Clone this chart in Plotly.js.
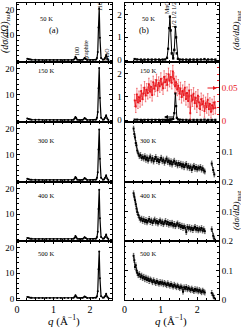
<!DOCTYPE html>
<html><head><meta charset="utf-8">
<script src="https://cdn.plot.ly/plotly-3.0.1.min.js"></script>
<style>html,body{margin:0;padding:0;background:#fff}#chart{width:241px;height:330px}</style>
</head><body><div id="chart"></div>
<script>
// ---------- DATA ----------
const tempLabels = ['50 K','150 K','300 K','400 K','500 K'];

// nuclear scattering (left column)
const qNuc = [0.28,0.32,0.36,0.40,0.50,0.60,0.70,0.80,0.90,1.00,
  1.10,1.20,1.30,1.40,1.50,1.55,1.58,1.60,1.62,1.65,
  1.70,1.78,1.82,1.85,1.88,1.92,2.00,2.08,2.14,2.17,
  2.19,2.21,2.23,2.25,2.27,2.30,2.35,2.38,2.41,2.44,
  2.47,2.50];
const nuc50 = [0.9,0.7,0.55,0.5,0.45,0.42,0.4,0.4,0.38,0.38,
  0.37,0.37,0.38,0.38,0.4,0.5,0.9,1.6,1.2,0.5,
  0.4,0.4,0.6,1.2,0.8,0.4,0.4,0.4,0.45,0.6,
  1.2,3.5,13,20.5,9,1.2,0.5,0.6,1.2,2.3,
  0.9,0.4];
const nuc150 = [0.9,0.7,0.55,0.5,0.45,0.42,0.4,0.4,0.38,0.38,
  0.37,0.37,0.38,0.38,0.4,0.5,0.9,1.5,1.1,0.5,
  0.4,0.4,0.6,1.1,0.8,0.4,0.4,0.4,0.45,0.6,
  1.2,3.4,12.5,20.2,8.8,1.2,0.5,0.6,1.2,2.2,
  0.9,0.4];
const nuc300 = [0.8,0.65,0.5,0.45,0.42,0.4,0.38,0.38,0.37,0.37,
  0.36,0.36,0.37,0.37,0.4,0.5,0.9,1.5,1.1,0.5,
  0.4,0.4,0.6,1.1,0.8,0.4,0.4,0.4,0.45,0.6,
  1.2,3.3,12,19.6,8.5,1.2,0.5,0.6,1.2,2.2,
  0.9,0.4];
const nuc400 = [0.8,0.65,0.5,0.45,0.42,0.4,0.38,0.38,0.37,0.37,
  0.36,0.36,0.37,0.37,0.4,0.5,0.9,1.5,1.1,0.5,
  0.4,0.4,0.6,1.1,0.8,0.4,0.4,0.4,0.45,0.6,
  1.2,3.2,12,19.5,8.4,1.2,0.5,0.6,1.2,2.1,
  0.9,0.4];
const nuc500 = [0.8,0.65,0.5,0.45,0.42,0.4,0.38,0.38,0.37,0.37,
  0.36,0.36,0.37,0.37,0.4,0.5,0.9,1.4,1.0,0.5,
  0.4,0.4,0.6,1.0,0.8,0.4,0.4,0.4,0.45,0.6,
  1.1,3.0,11.5,18.4,8.0,1.1,0.5,0.6,1.1,2.0,
  0.9,0.4];

// magnetic scattering, low T (right column, black, left axis)
const qMag = [0.28,0.35,0.45,0.55,0.65,0.75,0.85,0.95,1.05,1.12,
  1.17,1.20,1.23,1.25,1.27,1.30,1.34,1.37,1.40,1.42,
  1.44,1.47,1.52,1.60,1.70,1.80,1.90,2.00,2.10,2.20,
  2.30,2.40,2.50];
const mag50 = [0.05,0.03,0.02,0.02,0.02,0.02,0.02,0.02,0.02,0.03,
  0.10,0.50,1.40,1.90,1.30,0.30,0.08,0.45,1.45,1.00,
  0.30,0.06,0.03,0.02,0.02,0.02,0.02,0.02,0.03,0.05,
  0.03,0.03,0.02];
const mag150 = [0.02,0.02,0.01,0.01,0.01,0.01,0.01,0.01,0.01,0.01,
  0.01,0.01,0.01,0.02,0.02,0.03,0.05,0.30,1.15,0.60,
  0.10,0.03,0.02,0.01,0.01,0.01,0.01,0.01,0.01,0.02,
  0.01,0.01,0.01];

// 150 K diffuse magnetic signal (red, right axis)
const qRed = [0.28,0.31,0.34,0.37,0.40,0.43,0.46,0.49,0.52,0.55,
  0.58,0.61,0.64,0.67,0.70,0.73,0.76,0.79,0.82,0.85,
  0.88,0.91,0.94,0.97,1.00,1.03,1.06,1.09,1.12,1.15,
  1.18,1.21,1.24,1.27,1.30,1.33,1.36,1.39,1.42,1.45,
  1.48,1.51,1.54,1.57,1.60,1.63,1.66,1.69,1.72,1.75,
  1.78,1.81,1.84,1.87,1.90,1.93,1.96,1.99,2.02,2.05,
  2.08,2.11,2.14,2.17,2.20,2.23,2.26,2.29,2.32,2.35,
  2.38,2.41,2.44,2.47,2.50];
const red150 = [0.031,0.022,0.040,0.028,0.036,0.030,0.045,0.033,0.041,0.050,
  0.038,0.047,0.042,0.055,0.044,0.051,0.039,0.058,0.048,0.053,
  0.061,0.046,0.057,0.052,0.063,0.055,0.049,0.066,0.058,0.062,
  0.054,0.070,0.060,0.066,0.057,0.074,0.063,0.052,0.058,0.047,
  0.053,0.041,0.049,0.036,0.045,0.039,0.050,0.033,0.042,0.030,
  0.046,0.012,0.038,0.031,0.041,0.027,0.035,0.022,0.038,0.028,
  0.018,0.033,0.025,0.030,0.015,0.027,0.021,0.032,0.018,0.026,
  0.014,0.024,0.019,0.028,0.020];

// paramagnetic scattering, high T (right column, right axis)
const qHi = [0.25,0.27,0.29,0.31,0.33,0.35,0.38,0.41,0.44,0.47,
  0.50,0.53,0.56,0.59,0.62,0.65,0.68,0.71,0.74,0.77,
  0.80,0.83,0.86,0.89,0.92,0.95,0.98,1.01,1.04,1.07,
  1.10,1.13,1.16,1.19,1.22,1.25,1.28,1.31,1.34,1.37,
  1.40,1.43,1.46,1.49,1.52,1.55,1.58,1.61,1.64,1.67,
  1.70,1.73,1.76,1.79,1.82,1.85,1.88,1.91,1.94,1.97,
  2.00,2.03,2.06,2.09,2.12,2.15,2.18,2.21,2.30,2.40,
  2.44,2.47];
const mag300 = [0.178,0.160,0.148,0.130,0.122,0.105,0.095,0.086,0.090,0.080,
  0.084,0.078,0.086,0.074,0.082,0.071,0.079,0.085,0.072,0.080,
  0.068,0.077,0.083,0.070,0.076,0.066,0.074,0.081,0.069,0.075,
  0.064,0.071,0.078,0.066,0.072,0.061,0.069,0.058,0.066,0.071,
  0.060,0.064,0.055,0.063,0.057,0.061,0.052,0.059,0.049,0.056,
  0.060,0.048,0.054,0.046,0.052,0.040,0.049,0.054,0.044,0.050,
  0.042,0.048,0.045,0.050,0.041,0.046,0.038,0.035,null,0.062,
  0.040,0.025];
const mag400 = [0.162,0.150,0.138,0.125,0.110,0.098,0.088,0.079,0.072,0.076,
  0.068,0.074,0.065,0.071,0.063,0.069,0.075,0.064,0.070,0.061,
  0.067,0.073,0.062,0.068,0.059,0.065,0.070,0.060,0.066,0.057,
  0.063,0.068,0.058,0.064,0.055,0.061,0.056,0.062,0.052,0.058,
  0.050,0.056,0.060,0.050,0.055,0.047,0.052,0.044,0.050,0.045,
  0.030,0.048,0.042,0.047,0.039,0.045,0.037,0.043,0.048,0.038,
  0.044,0.036,0.042,0.038,0.044,0.035,0.040,0.033,null,0.040,
  0.018,0.008];
const mag500 = [0.150,0.135,0.112,0.118,0.100,0.092,0.084,0.088,0.078,0.083,
  0.074,0.079,0.070,0.076,0.068,0.073,0.064,0.070,0.066,0.060,
  0.067,0.062,0.057,0.064,0.059,0.055,0.061,0.056,0.060,0.053,
  0.058,0.054,0.050,0.057,0.052,0.048,0.054,0.049,0.045,0.052,
  0.047,0.043,0.049,0.044,0.040,0.046,0.042,0.028,0.043,0.038,
  0.044,0.036,0.041,0.037,0.033,0.039,0.034,0.030,0.037,0.032,
  0.036,0.029,0.034,0.030,0.026,0.032,0.028,0.025,null,0.024,
  0.015,0.007];

// ---------- LAYOUT ----------
const W = 241, H = 330;
const FONT = 'Liberation Serif, Times New Roman, serif';
const rowsPx = [[3,62],[62,122],[122,182],[182,241],[241,300]];
const leftDom = [17/W, 112/W], rightDom = [124.5/W, 219/W];
const px = v => v / W, py = v => 1 - v / H;

const layout = {
  width: W, height: H, margin: {l:0, r:0, t:0, b:0},
  paper_bgcolor: '#fff', plot_bgcolor: 'rgba(0,0,0,0)',
  showlegend: false, font: {family: FONT, size: 9, color: '#000'},
  annotations: []
};

function xAx(dom, showLab) {
  return {domain: dom, range: [0, 2.6], showline: true, mirror: 'ticks', linecolor: '#000', linewidth: 1,
    ticks: 'inside', ticklen: 3, tickcolor: '#000', tickvals: [0,1,2], showticklabels: showLab,
    tickfont: {family: FONT, size: 10}, showgrid: false, zeroline: false,
    minor: {ticks: 'inside', ticklen: 1.8, dtick: 0.25, tick0: 0, tickcolor: '#000', showgrid: false}};
}
function yAx(row, opts) {
  const r = rowsPx[row];
  return Object.assign({domain: [py(r[1]), py(r[0])], showline: true, mirror: 'ticks', linecolor: '#000', linewidth: 1,
    ticks: 'inside', ticklen: 3, tickcolor: '#000', showgrid: false, zeroline: false,
    tickfont: {family: FONT, size: 9}}, opts);
}

const nucSets = [nuc50, nuc150, nuc300, nuc400, nuc500];
const traces = [];

for (let i = 0; i < 5; i++) {
  const nL = 2*i + 1, nR = 2*i + 2;
  const kxL = nL === 1 ? 'xaxis' : 'xaxis' + nL, kyL = nL === 1 ? 'yaxis' : 'yaxis' + nL;
  layout[kxL] = Object.assign(xAx(leftDom, i === 4), {anchor: nL === 1 ? 'y' : 'y' + nL});
  layout['xaxis' + nR] = Object.assign(xAx(rightDom, i === 4), {anchor: 'y' + nR});
  layout[kyL] = yAx(i, {anchor: nL === 1 ? 'x' : 'x' + nL, range: [-0.4, 22.5],
    tickvals: i === 4 ? [0,10,20] : [10,20],
    minor: {ticks: 'inside', ticklen: 1.8, dtick: 2, tick0: 0, tickcolor: '#000', showgrid: false}});
  if (i < 2) {
    layout['yaxis' + nR] = yAx(i, {anchor: 'x' + nR, range: [-0.08, 2.5], tickvals: [0,1,2], side: 'left',
      mirror: i === 0 ? 'ticks' : false,
      minor: {ticks: 'inside', ticklen: 1.8, dtick: 0.2, tick0: 0, tickcolor: '#000', showgrid: false}});
  } else {
    const tv = i === 2 ? [0.1] : (i === 3 ? [0.1, 0.2] : [0, 0.1, 0.2]);
    layout['yaxis' + nR] = yAx(i, {anchor: 'x' + nR, range: [0, 0.2], tickvals: tv,
      ticktext: tv.map(v => v === 0 ? '0' : String(v)), side: 'right',
      minor: {ticks: 'inside', ticklen: 1.8, dtick: 0.02, tick0: 0, tickcolor: '#000', showgrid: false}});
  }
  traces.push({x: qNuc, y: nucSets[i], type: 'scatter', mode: 'lines+markers',
    xaxis: nL === 1 ? 'x' : 'x' + nL, yaxis: nL === 1 ? 'y' : 'y' + nL,
    line: {color: '#000', width: 1.2}, marker: {color: '#000', size: 2}, cliponaxis: true});
}

// red axis on 150 K right panel
layout.yaxis11 = {domain: [py(rowsPx[1][1]), py(rowsPx[1][0])], overlaying: 'y4', anchor: 'x4', side: 'right',
  range: [-0.001, 0.088], tickvals: [0, 0.05], ticktext: ['0','0.05'], showline: true, linecolor: '#000', linewidth: 1,
  ticks: 'inside', ticklen: 3, tickcolor: '#e8141b', tickfont: {family: FONT, size: 9, color: '#e8141b'},
  showgrid: false, zeroline: false,
  minor: {ticks: 'inside', ticklen: 1.8, dtick: 0.01, tick0: 0, tickcolor: '#e8141b', showgrid: false}};

// magnetic traces
traces.push({x: qMag, y: mag50, xaxis: 'x2', yaxis: 'y2', type: 'scatter', mode: 'lines+markers',
  line: {color: '#000', width: 1}, marker: {color: '#000', size: 2.2, symbol: 'square'},
  error_y: {type: 'constant', value: 0.03, thickness: 0.5, width: 1, color: '#000'}});
traces.push({x: qRed, y: red150, xaxis: 'x4', yaxis: 'y11', type: 'scatter', mode: 'lines+markers',
  line: {color: '#e8141b', width: 0.8}, marker: {color: '#e8141b', size: 1.8, symbol: 'square'},
  error_y: {type: 'constant', value: 0.009, thickness: 0.5, width: 0.8, color: '#e8141b'}});
traces.push({x: qMag, y: mag150, xaxis: 'x4', yaxis: 'y4', type: 'scatter', mode: 'lines+markers',
  line: {color: '#000', width: 1}, marker: {color: '#000', size: 2.2, symbol: 'square'}});
const hiSets = [mag300, mag400, mag500];
for (let k = 0; k < 3; k++) {
  const n = 2*(k+2) + 2;
  traces.push({x: qHi, y: hiSets[k], xaxis: 'x' + n, yaxis: 'y' + n, type: 'scatter', mode: 'lines+markers',
    connectgaps: false, line: {color: '#000', width: 0.8}, marker: {color: '#000', size: 2, symbol: 'square'},
    error_y: {type: 'constant', value: 0.008, thickness: 0.5, width: 0.8, color: '#000'}});
}

// ---------- ANNOTATIONS ----------
function txt(t, x, y, size, extra) {
  layout.annotations.push(Object.assign({text: t, x: px(x), y: py(y), xref: 'paper', yref: 'paper',
    showarrow: false, xanchor: 'center', yanchor: 'middle', font: {family: FONT, size: size, color: '#000'}}, extra || {}));
}
const tempY = [18, 71, 140, 195, 253];
for (let i = 0; i < 5; i++) {
  txt(tempLabels[i], 46, tempY[i], 6.5);
  txt(tempLabels[i], 148, tempY[i], 6.5);
}
txt('(a)', 54, 30, 8.5);
txt('(b)', 144, 30, 8.5);
txt('100', 77, 52, 6, {textangle: -90});
txt('graphite', 86, 50, 6, {textangle: -90});
txt('110', 100, 7, 6, {textangle: -90});
txt('MnO', 107, 55, 6, {textangle: -90});
txt('MnO', 167, 8, 6, {textangle: -90});
txt('1/2 1/2 1/2', 174, 15, 6, {textangle: -90});
txt('<i>(dσ/dΩ)</i><sub>nuc</sub>', 6, 32, 10, {textangle: -90});
txt('<i>(dσ/dΩ)</i><sub>mag</sub>', 236, 30, 9, {textangle: -90});
txt('<i>(dσ/dΩ)</i><sub>mag</sub>', 236, 210, 9, {textangle: -90});
txt('<i>q</i> (Å<sup>−1</sup>)', 64, 320, 11);
txt('<i>q</i> (Å<sup>−1</sup>)', 171, 320, 11);
// arrows in 150 K magnetic panel
layout.annotations.push({x: px(217), y: py(88), xref: 'paper', yref: 'paper', ax: -12, ay: 0, text: ' ',
  showarrow: true, arrowhead: 2, arrowsize: 0.8, arrowwidth: 1, arrowcolor: '#e8141b'});
layout.annotations.push({x: px(164), y: py(117), xref: 'paper', yref: 'paper', ax: 12, ay: 0, text: ' ',
  showarrow: true, arrowhead: 2, arrowsize: 0.8, arrowwidth: 1, arrowcolor: '#000'});

Plotly.newPlot('chart', traces, layout, {staticPlot: true, displayModeBar: false});
</script>
</body></html>
